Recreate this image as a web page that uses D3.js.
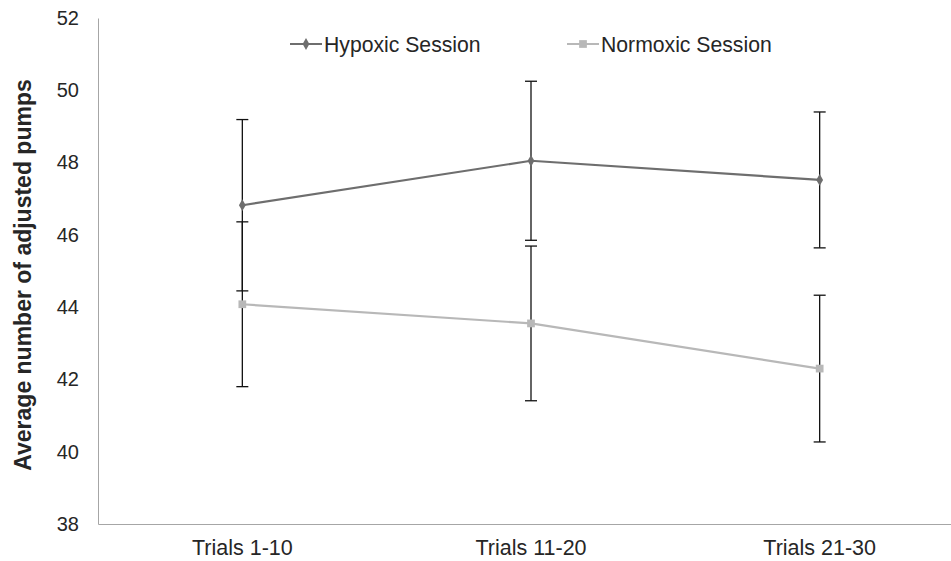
<!DOCTYPE html>
<html>
<head>
<meta charset="utf-8">
<script src="https://cdn.jsdelivr.net/npm/d3@7"></script>
<style>
  body { margin: 0; background: #fff; }
  text { font-family: "Liberation Sans", Arial, sans-serif; }
</style>
</head>
<body>
<div id="chart"></div>
<script>
// data
var trials = ["Trials 1-10", "Trials 11-20", "Trials 21-30"];
var hypoxic = [46.82, 48.05, 47.52];
var hypoxicErr = [2.37, 2.2, 1.88];
var normoxic = [44.08, 43.55, 42.3];
var normoxicErr = [2.28, 2.14, 2.03];
var yTicks = [38, 40, 42, 44, 46, 48, 50, 52];

var width = 951, height = 561;
var plotLeft = 98, plotTop = 18, plotBottom = 524, plotW = 866;

var svg = d3.select("#chart").append("svg")
    .attr("width", width)
    .attr("height", height);

var x = d3.scaleBand().domain(trials).range([plotLeft, plotLeft + plotW]);
var y = d3.scaleLinear().domain([38, 52]).range([plotBottom, plotTop]);

// y axis
var yAxis = d3.axisLeft(y).tickValues(yTicks).tickSize(0).tickPadding(19);
var gy = svg.append("g").attr("transform", "translate(" + plotLeft + ",0)").call(yAxis);
gy.select(".domain").attr("stroke", "#a6a6a6");
gy.selectAll("text").style("font-size", "20px").attr("fill", "#262626");

// x axis
var xAxis = d3.axisBottom(x).tickSize(0).tickPadding(16);
var gx = svg.append("g").attr("transform", "translate(0," + plotBottom + ")").call(xAxis);
gx.select(".domain").attr("stroke", "#a6a6a6");
gx.selectAll("text").style("font-size", "21.5px").attr("fill", "#262626");

// y title
svg.append("text")
    .attr("transform", "translate(31,275) rotate(-90)")
    .attr("text-anchor", "middle")
    .style("font-size", "23px")
    .style("font-weight", "bold")
    .attr("fill", "#262626")
    .text("Average number of adjusted pumps");

var cx = function(i) { return x(trials[i]) + x.bandwidth() / 2; };

var series = [
  { name: "Hypoxic Session", vals: hypoxic, err: hypoxicErr, color: "#6e6e6e", shape: "diamond" },
  { name: "Normoxic Session", vals: normoxic, err: normoxicErr, color: "#b8b8b8", shape: "square" }
];

var line = d3.line().x(function(d, i) { return cx(i); }).y(function(d) { return y(d); });

series.forEach(function(s) {
  svg.append("path")
      .datum(s.vals)
      .attr("d", line)
      .attr("fill", "none")
      .attr("stroke", s.color)
      .attr("stroke-width", 2.2);
});

// error bars
series.forEach(function(s) {
  var g = svg.append("g");
  s.vals.forEach(function(v, i) {
    var hi = y(v + s.err[i]), lo = y(v - s.err[i]), c = cx(i);
    g.append("line").attr("x1", c).attr("x2", c).attr("y1", hi).attr("y2", lo)
      .attr("stroke", "#111").attr("stroke-width", 1.3);
    [hi, lo].forEach(function(yy) {
      g.append("line").attr("x1", c - 6).attr("x2", c + 6).attr("y1", yy).attr("y2", yy)
        .attr("stroke", "#111").attr("stroke-width", 1.3);
    });
  });
});

// markers
function marker(g, shape, px, py, color) {
  var sym = shape === "diamond" ? d3.symbolDiamond : d3.symbolSquare;
  var sz = shape === "diamond" ? 40 : 60;
  g.append("path")
    .attr("d", d3.symbol().type(sym).size(sz)())
    .attr("transform", "translate(" + px + "," + py + ")")
    .attr("fill", color);
}
series.forEach(function(s) {
  var g = svg.append("g");
  s.vals.forEach(function(v, i) { marker(g, s.shape, cx(i), y(v), s.color); });
});

// legend
var legX = [290, 567];
series.forEach(function(s, i) {
  var g = svg.append("g").attr("transform", "translate(" + legX[i] + ",44)");
  g.append("line").attr("x1", 0).attr("x2", 32).attr("y1", 0).attr("y2", 0)
    .attr("stroke", s.color).attr("stroke-width", 2);
  marker(g, s.shape, 16, 0, s.color);
  g.append("text").attr("x", 34).attr("y", 7.5)
    .style("font-size", "21.2px").attr("fill", "#262626").text(s.name);
});
</script>
</body>
</html>
